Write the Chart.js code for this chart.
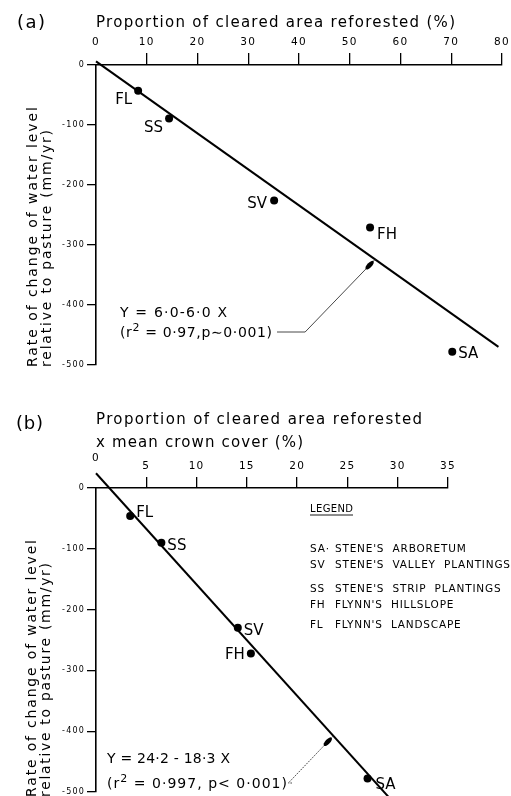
<!DOCTYPE html>
<html>
<head>
<meta charset="utf-8">
<script src="https://cdn.jsdelivr.net/npm/chart.js@4.4.1/dist/chart.umd.min.js"></script>
<style>
  html, body { margin: 0; padding: 0; background: #fff; }
  #wrap { position: relative; width: 511px; height: 796px; overflow: hidden; }
  canvas { position: absolute; left: 0; }
</style>
</head>
<body>
<div id="wrap">
  <canvas id="panelA" width="511" height="380" style="top:0"></canvas>
  <canvas id="panelB" width="511" height="416" style="top:380px"></canvas>
</div>
<script>
// ---- data -------------------------------------------------------------
const siteCodes = ['FL', 'SS', 'SV', 'FH', 'SA'];

// (a) proportion of cleared area reforested (%)
const reforestedPct = [8.3, 14.4, 35.1, 54.0, 70.2];
const rateVsReforested = [-43, -89, -226, -271, -478];

// (b) proportion reforested x mean crown cover (%)
const crownCoverPct = [3.4, 6.5, 14.1, 15.4, 27.0];
const rateVsCrownCover = [-46, -90, -230, -272, -478];

const reforestedTicks = [0, 10, 20, 30, 40, 50, 60, 70, 80];
const crownCoverTicks = [0, 5, 10, 15, 20, 25, 30, 35];
const rateTicks = [0, -100, -200, -300, -400, -500];

// fitted regressions Y = a + bX
const fitA = { intercept: 6.0, slope: -6.0, xFrom: 0, xTo: 79.3 };
const fitB = { intercept: 24.2, slope: -18.3, xFrom: 0, xTo: 29.2 };

const legendCodes = ['SA\u00b7', 'SV', 'SS', 'FH', 'FL'];
const legendNames = ["STENE'S  ARBORETUM", "STENE'S  VALLEY  PLANTINGS", "STENE'S  STRIP  PLANTINGS",
                     "FLYNN'S  HILLSLOPE", "FLYNN'S  LANDSCAPE"];

// ---- drawing helpers --------------------------------------------------
const FONT = '"DejaVu Sans", sans-serif';

// draw text stretched to a given width by letter spacing
function spaced(ctx, text, x, y, width) {
  ctx.letterSpacing = '0px';
  const n = [...text].length;
  const w = ctx.measureText(text).width;
  const sp = width && n > 1 ? (width - w) / (n - 1) : 0;
  ctx.letterSpacing = sp + 'px';
  ctx.fillText(text, x, y);
  ctx.letterSpacing = '0px';
}

function verticalText(ctx, text, baseX, startY, length) {
  ctx.save();
  ctx.translate(baseX, startY);
  ctx.rotate(-Math.PI / 2);
  ctx.textAlign = 'left';
  ctx.textBaseline = 'alphabetic';
  spaced(ctx, text, 0, 0, length);
  ctx.restore();
}

// "(r² = ...)" style line with a raised 2
function rSquaredText(ctx, rest, x, y, width, size) {
  const head = '(r', sup = '2';
  ctx.letterSpacing = '0px';
  ctx.font = size + 'px ' + FONT;
  const wHead = ctx.measureText(head).width, wRest = ctx.measureText(rest).width;
  ctx.font = Math.round(size * 0.75) + 'px ' + FONT;
  const wSup = ctx.measureText(sup).width;
  const n = head.length + sup.length + [...rest].length;
  const sp = (width - wHead - wSup - wRest) / (n - 1);
  ctx.letterSpacing = sp + 'px';
  ctx.textAlign = 'left';
  ctx.font = size + 'px ' + FONT;
  ctx.fillText(head, x, y);
  let cx = x + wHead + head.length * sp;
  ctx.font = Math.round(size * 0.75) + 'px ' + FONT;
  ctx.fillText(sup, cx, y - size * 0.45);
  cx += wSup + sp;
  ctx.font = size + 'px ' + FONT;
  ctx.fillText(rest, cx, y);
  ctx.letterSpacing = '0px';
}

function leader(ctx, pts, dashed) {
  ctx.save();
  ctx.strokeStyle = '#333';
  ctx.lineWidth = 0.9;
  if (dashed) ctx.setLineDash([1.6, 1.1]);
  ctx.beginPath();
  ctx.moveTo(pts[0][0], pts[0][1]);
  for (let i = 1; i < pts.length; i++) ctx.lineTo(pts[i][0], pts[i][1]);
  ctx.stroke();
  ctx.restore();
  // teardrop arrow head just short of the tip
  const [tx, ty] = pts[pts.length - 1], [px, py] = pts[pts.length - 2];
  const ang = Math.atan2(ty - py, tx - px);
  ctx.save();
  ctx.translate(tx - Math.cos(ang) * 8, ty - Math.sin(ang) * 8);
  ctx.rotate(ang);
  ctx.fillStyle = '#000';
  ctx.beginPath();
  ctx.ellipse(0, 0, 5.5, 2.4, 0, 0, Math.PI * 2);
  ctx.fill();
  ctx.restore();
}

function fitPoints(fit) {
  return [fit.xFrom, fit.xTo].map(x => ({ x, y: fit.intercept + fit.slope * x }));
}

// ---- one panel --------------------------------------------------------
function buildPanel(cfg) {
  const decor = {
    id: 'panelDecor',
    beforeDraw(chart) { chart.ctx.letterSpacing = '1.2px'; },
    afterDraw(chart) {
      const ctx = chart.ctx;
      ctx.save();
      ctx.letterSpacing = '0px';
      ctx.fillStyle = '#000';
      ctx.textBaseline = 'alphabetic';
      const xs = chart.scales.x, ys = chart.scales.y;
      // site labels next to their markers
      const meta = chart.getDatasetMeta(0);
      ctx.font = '15px ' + FONT;
      meta.data.forEach((pt, i) => {
        const p = cfg.labelPlacement[i];
        ctx.textAlign = p.align;
        spaced(ctx, siteCodes[i], pt.x + p.dx, pt.y + p.dy, 0);
      });
      // regression annotation with leader to the fitted line
      const tipX = xs.getPixelForValue(cfg.arrowAtX);
      const tipY = ys.getPixelForValue(cfg.fit.intercept + cfg.fit.slope * cfg.arrowAtX);
      const a = cfg.annotation;
      ctx.textAlign = 'left';
      ctx.font = '14px ' + FONT;
      spaced(ctx, a.line1, a.x, a.y1, a.w1);
      rSquaredText(ctx, a.line2, a.x, a.y2, a.w2, 14);
      leader(ctx, [[a.x + a.w2 + 5, a.y2 - 5], [tipX + a.bendDx, a.y2 - 5],
                   [tipX, tipY]], a.dashed);
      cfg.extra && cfg.extra(ctx, chart);
      ctx.restore();
    }
  };

  const grid = (len, hideZero) => ({
    display: true, drawOnChartArea: false, drawTicks: true, tickLength: len,
    lineWidth: 1.3,
    color: c => (hideZero && c.tick && c.tick.value === 0) ? 'rgba(0,0,0,0)' : '#000'
  });

  return new Chart(document.getElementById(cfg.canvas), {
    type: 'scatter',
    data: {
      datasets: [
        {
          label: 'sites',
          data: cfg.xs.map((x, i) => ({ x, y: cfg.ys[i] })),
          pointRadius: 4, pointHoverRadius: 4,
          backgroundColor: '#000', borderColor: '#000', borderWidth: 0
        },
        {
          label: 'fit',
          data: fitPoints(cfg.fit),
          showLine: true, pointRadius: 0, borderColor: '#000', borderWidth: 2,
          clip: false
        }
      ]
    },
    options: {
      responsive: false, animation: false, events: [],
      layout: { padding: cfg.padding },
      plugins: { legend: { display: false }, tooltip: { enabled: false } },
      scales: {
        x: {
          type: 'linear', position: 'top', min: 0, max: cfg.xMax,
          afterBuildTicks: s => { s.ticks = cfg.xTicks.map(v => ({ value: v })); },
          afterFit: s => { s.height = cfg.xAxisHeight; s.paddingLeft = 0; s.paddingRight = 0; },
          grid: grid(cfg.xTickLen, true),
          border: { display: true, color: '#000', width: 1.6 },
          ticks: {
            color: '#000', padding: 4, maxRotation: 0, autoSkip: false,
            callback: v => String(v),
            font: cfg.xTickFont
          }
        },
        y: {
          type: 'linear', position: 'left', min: -500, max: 0,
          afterBuildTicks: s => { s.ticks = rateTicks.map(v => ({ value: v })); },
          afterFit: s => { s.width = 96; s.paddingTop = 0; s.paddingBottom = 0; },
          grid: grid(9, false),
          border: { display: true, color: '#000', width: 1.6 },
          ticks: {
            color: '#000', padding: 2, autoSkip: false,
            callback: v => String(v),
            font: { family: FONT, size: 8 }
          }
        }
      }
    },
    plugins: [decor]
  });
}

const yTitle1 = 'Rate of change of water level';
const yTitle2 = 'relative to pasture (mm/yr)';

// (a)
buildPanel({
  canvas: 'panelA',
  xs: reforestedPct, ys: rateVsReforested, fit: fitA,
  xTicks: reforestedTicks, xMax: 80,
  xAxisHeight: 65, xTickLen: 12,
  padding: { left: 0, top: 0, right: 9, bottom: 15 },
  xTickFont: { family: FONT, size: 10.5 },
  labelPlacement: [
    { dx: -6, dy: 13, align: 'right' },
    { dx: -6, dy: 14, align: 'right' },
    { dx: -7, dy: 7, align: 'right' },
    { dx: 7, dy: 11, align: 'left' },
    { dx: 6, dy: 6, align: 'left' }
  ],
  arrowAtX: 55,
  annotation: {
    x: 120, y1: 317, w1: 107, y2: 337, w2: 152,
    line1: 'Y = 6\u00b70-6\u00b70 X', line2: ' = 0\u00b797,p\u223c0\u00b7001)',
    bendDx: -70, dashed: false
  },
  extra(ctx) {
    ctx.textAlign = 'left';
    ctx.font = '18px ' + FONT;
    spaced(ctx, '(a)', 17, 28, 28);
    ctx.font = '15px ' + FONT;
    spaced(ctx, 'Proportion of cleared area reforested (%)', 96, 27, 359);
    ctx.font = '14px ' + FONT;
    verticalText(ctx, yTitle1, 37, 367, 260);
    verticalText(ctx, yTitle2, 51, 367, 237);
  }
});

// (b)
buildPanel({
  canvas: 'panelB',
  xs: crownCoverPct, ys: rateVsCrownCover, fit: fitB,
  xTicks: crownCoverTicks, xMax: 35,
  xAxisHeight: 108, xTickLen: 11,
  padding: { left: 0, top: 0, right: 63, bottom: 2 },
  xTickFont: c => (c.tick && c.tick.value === 0)
    ? { family: FONT, size: 10.5, lineHeight: 2.8 }
    : { family: FONT, size: 10.5 },
  labelPlacement: [
    { dx: 6, dy: 1, align: 'left' },
    { dx: 6, dy: 7, align: 'left' },
    { dx: 6, dy: 7, align: 'left' },
    { dx: -6, dy: 6, align: 'right' },
    { dx: 8, dy: 10, align: 'left' }
  ],
  arrowAtX: 23.6,
  annotation: {
    x: 107, y1: 383, w1: 123, y2: 408, w2: 180,
    line1: 'Y = 24\u00b72 - 18\u00b73 X', line2: ' = 0\u00b7997, p< 0\u00b7001)',
    bendDx: -45, dashed: true
  },
  extra(ctx) {
    ctx.textAlign = 'left';
    ctx.font = '18px ' + FONT;
    spaced(ctx, '(b)', 16, 49, 27);
    ctx.font = '15px ' + FONT;
    spaced(ctx, 'Proportion of cleared area reforested', 96, 44, 326);
    spaced(ctx, 'x mean crown cover (%)', 96, 67, 207);
    ctx.font = '14px ' + FONT;
    verticalText(ctx, yTitle1, 36, 417, 257);
    verticalText(ctx, yTitle2, 50, 417, 234);
    // legend block
    ctx.font = '10px ' + FONT;
    spaced(ctx, 'LEGEND', 310, 132, 43);
    ctx.strokeStyle = '#000';
    ctx.lineWidth = 0.9;
    ctx.beginPath(); ctx.moveTo(310, 135); ctx.lineTo(353, 135); ctx.stroke();
    const rows = [172, 188, 212, 228, 248];
    ctx.font = '10.5px ' + FONT;
    ctx.letterSpacing = '0px';
    const ref = ctx.measureText(legendNames[1]).width;
    const sp = (175 - ref) / ([...legendNames[1]].length - 1);
    legendCodes.forEach((code, i) => {
      ctx.letterSpacing = sp + 'px';
      ctx.fillText(code, 310, rows[i]);
      ctx.fillText(legendNames[i], 335, rows[i]);
    });
    ctx.letterSpacing = '0px';
  }
});
</script>
</body>
</html>
